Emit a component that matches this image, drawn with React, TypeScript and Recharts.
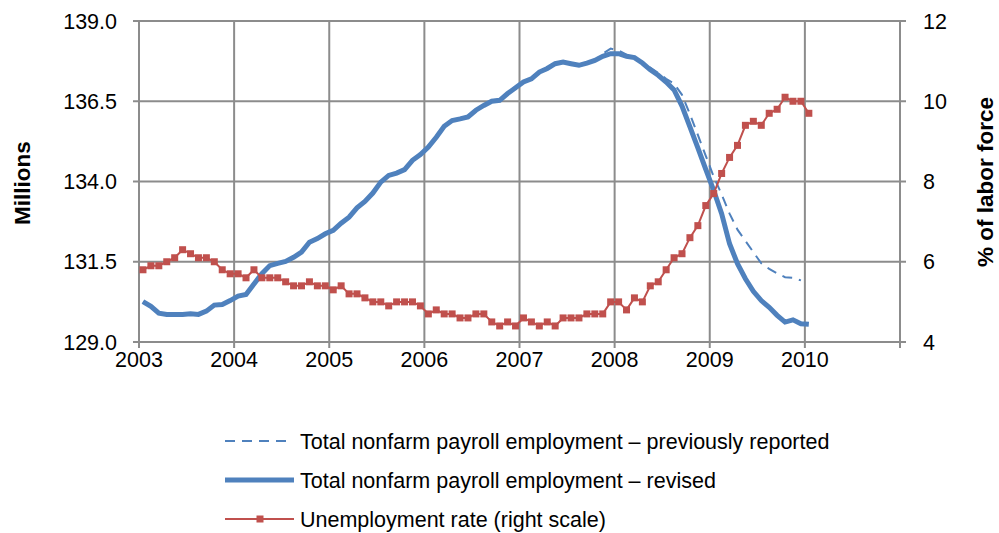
import React from "react";
import { CartesianGrid, Line, LineChart, XAxis, YAxis } from "recharts";

// monthly, Jan 2003 .. Jan 2010
const startYear = 2003;

const revised = [
  130.26, 130.11, 129.9, 129.86, 129.86, 129.86, 129.88, 129.86, 129.96, 130.15, 130.17, 130.29,
  130.43, 130.48, 130.81, 131.13, 131.38, 131.45, 131.51, 131.64, 131.8, 132.11, 132.22, 132.37,
  132.48, 132.7, 132.89, 133.18, 133.38, 133.64, 133.98, 134.19, 134.26, 134.37, 134.66, 134.84,
  135.07, 135.38, 135.72, 135.9, 135.95, 136.01, 136.22, 136.37, 136.5, 136.53, 136.74, 136.92,
  137.1, 137.2, 137.41, 137.52, 137.67, 137.72, 137.67, 137.62, 137.69, 137.77, 137.9, 137.98,
  137.98, 137.9, 137.86, 137.69, 137.48, 137.31, 137.1, 136.85, 136.35, 135.7, 135.05, 134.38,
  133.72, 133.0, 132.06, 131.44, 130.97, 130.58, 130.29, 130.08, 129.83, 129.62, 129.69, 129.57,
  129.55,
];

// previously reported, where it departs from the revised line (Nov 2007 .. Dec 2009)
const previousFromNov2007 = [
  137.98, 138.14,
  138.08, 137.95, 137.87, 137.73, 137.55, 137.38, 137.2, 137.05, 136.7, 136.1, 135.45, 134.8,
  134.15, 133.6, 133.0, 132.5, 132.15, 131.8, 131.45, 131.28, 131.14, 131.02, 131.0, 130.92,
];
const previousSplit = 58; // index of Nov 2007

const unemployment = [
  5.8, 5.9, 5.9, 6.0, 6.1, 6.3, 6.2, 6.1, 6.1, 6.0, 5.8, 5.7,
  5.7, 5.6, 5.8, 5.6, 5.6, 5.6, 5.5, 5.4, 5.4, 5.5, 5.4, 5.4,
  5.3, 5.4, 5.2, 5.2, 5.1, 5.0, 5.0, 4.9, 5.0, 5.0, 5.0, 4.9,
  4.7, 4.8, 4.7, 4.7, 4.6, 4.6, 4.7, 4.7, 4.5, 4.4, 4.5, 4.4,
  4.6, 4.5, 4.4, 4.5, 4.4, 4.6, 4.6, 4.6, 4.7, 4.7, 4.7, 5.0,
  5.0, 4.8, 5.1, 5.0, 5.4, 5.5, 5.8, 6.1, 6.2, 6.6, 6.9, 7.4,
  7.7, 8.2, 8.6, 8.9, 9.4, 9.5, 9.4, 9.7, 9.8, 10.1, 10.0, 10.0,
  9.7,
];

const yearTicks = [2003, 2004, 2005, 2006, 2007, 2008, 2009, 2010, 2011];
const leftTicks = [129.0, 131.5, 134.0, 136.5, 139.0];
const rightTicks = [4, 6, 8, 10, 12];

const previous = revised
  .slice(0, previousSplit)
  .concat(previousFromNov2007);

const data = revised.map((v, i) => ({
  t: startYear + (i + 0.5) / 12,
  revised: v,
  previous: i < previous.length ? previous[i] : null,
  rate: unemployment[i],
}));

const BLUE = "#4F81BD";
const RED = "#C0504D";
const GRID = "#8c8c8c";
const FONT = "'Liberation Sans', Arial, sans-serif";
const FS = 21.5;
const TITLE_FS = 22.5;

const SquareDot = (props: any) => {
  const { cx, cy, index } = props;
  if (cx == null || cy == null) return <g key={`d${index}`} />;
  return <rect key={`d${index}`} x={cx - 3.5} y={cy - 3.5} width={7} height={7} fill={RED} />;
};

export default function App() {
  return (
    <div
      style={{
        position: "absolute",
        left: 0,
        top: 0,
        width: 999,
        height: 533,
        background: "#fff",
        fontFamily: FONT,
      }}
    >
      <LineChart
        width={999}
        height={380}
        data={data}
        margin={{ top: 21, right: 0, bottom: 0, left: 0 }}
      >
        <CartesianGrid stroke={GRID} strokeWidth={2} yAxisId="left" />
        <XAxis
          dataKey="t"
          type="number"
          domain={[2003, 2011]}
          ticks={yearTicks}
          tickFormatter={(v) => (v === 2011 ? "" : String(v))}
          height={38}
          tickSize={6}
          tickMargin={4}
          stroke={GRID}
          strokeWidth={2}
          tick={{ fontSize: FS, fill: "#000", fontFamily: FONT }}
          interval={0}
        />
        <YAxis
          yAxisId="left"
          domain={[129, 139]}
          ticks={leftTicks}
          tickFormatter={(v) => Number(v).toFixed(1)}
          width={139}
          tickSize={6}
          tickMargin={16}
          stroke={GRID}
          strokeWidth={2}
          tick={{ fontSize: FS, fill: "#000", fontFamily: FONT }}
          interval={0}
        />
        <YAxis
          yAxisId="right"
          orientation="right"
          domain={[4, 12]}
          ticks={rightTicks}
          width={99}
          tickSize={6}
          tickMargin={17}
          stroke={GRID}
          strokeWidth={2}
          tick={{ fontSize: FS, fill: "#000", fontFamily: FONT, textAnchor: "start" }}
          interval={0}
        />
        <Line
          yAxisId="left"
          dataKey="previous"
          stroke={BLUE}
          strokeWidth={2}
          strokeDasharray="10 7"
          dot={false}
          isAnimationActive={false}
        />
        <Line
          yAxisId="left"
          dataKey="revised"
          stroke={BLUE}
          strokeWidth={5}
          dot={false}
          isAnimationActive={false}
        />
        <Line
          yAxisId="right"
          dataKey="rate"
          stroke={RED}
          strokeWidth={2}
          dot={SquareDot}
          isAnimationActive={false}
        />
      </LineChart>
      <svg
        width={999}
        height={533}
        style={{ position: "absolute", left: 0, top: 0, pointerEvents: "none" }}
        fontFamily={FONT}
      >
        <text
          transform="translate(30,183) rotate(-90)"
          textAnchor="middle"
          fontSize={TITLE_FS}
          fontWeight="bold"
        >
          Millions
        </text>
        <text
          transform="translate(993,182) rotate(-90)"
          textAnchor="middle"
          fontSize={TITLE_FS}
          fontWeight="bold"
        >
          % of labor force
        </text>
        <line x1={225} x2={290} y1={441} y2={441} stroke={BLUE} strokeWidth={2} strokeDasharray="10 7" />
        <text x={300} y={441} dy="0.35em" fontSize={FS}>
          Total nonfarm payroll employment – previously reported
        </text>
        <line x1={225} x2={294} y1={480} y2={480} stroke={BLUE} strokeWidth={5} />
        <text x={300} y={480} dy="0.35em" fontSize={FS}>
          Total nonfarm payroll employment – revised
        </text>
        <line x1={225} x2={294} y1={519} y2={519} stroke={RED} strokeWidth={2} />
        <rect x={256.5} y={515.5} width={7} height={7} fill={RED} />
        <text x={300} y={519} dy="0.35em" fontSize={FS}>
          Unemployment rate (right scale)
        </text>
      </svg>
    </div>
  );
}
